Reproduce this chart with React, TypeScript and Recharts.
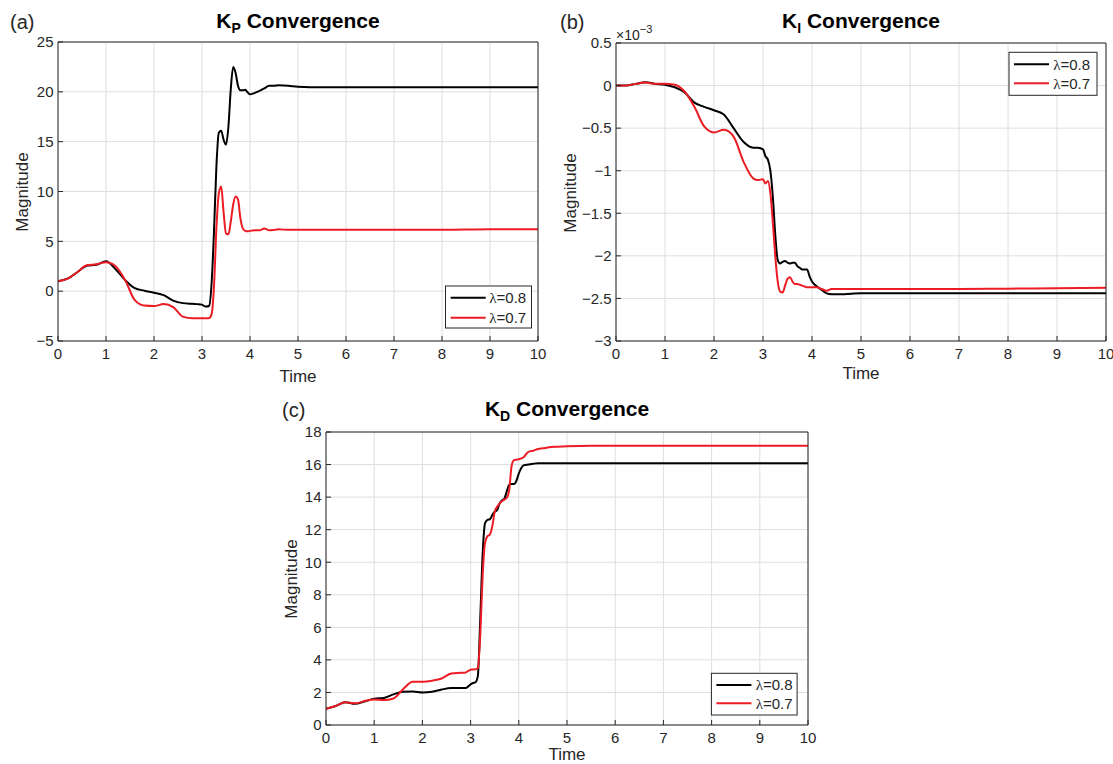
import { LineChart, Line, XAxis, YAxis, CartesianGrid } from "recharts"

// sample times (s), shared by all three panels
const time = [
  0, 0.2, 0.4, 0.6, 0.8, 1.0, 1.2, 1.4, 1.6, 1.8, 2.0, 2.2, 2.4, 2.6, 2.8, 2.9, 3.0,
  3.05, 3.1, 3.15, 3.2, 3.25, 3.3, 3.35, 3.4, 3.45, 3.5, 3.55, 3.6, 3.65, 3.7, 3.75, 3.8,
  3.85, 3.9, 3.95, 4.0, 4.1, 4.2, 4.3, 4.4, 4.5, 4.6, 4.8, 5.0, 5.5, 6, 7, 8, 9, 10,
]

// (a) Kp
const kpLambda08 = [
  1.0, 1.25, 1.9, 2.55, 2.65, 3.0, 2.2, 1.1, 0.3, 0.05, -0.15, -0.4, -0.95, -1.2, -1.27, -1.3, -1.35,
  -1.5, -1.55, -1.45, 0.8, 6.0, 12.5, 15.9, 16.1, 15.2, 14.7, 16.5, 20.3, 22.5, 21.9, 20.6, 20.15,
  20.15, 20.2, 19.95, 19.75, 19.9, 20.1, 20.35, 20.6, 20.6, 20.65, 20.6, 20.5, 20.45, 20.45, 20.45, 20.45, 20.45, 20.45,
]
const kpLambda07 = [
  1.0, 1.25, 1.9, 2.6, 2.7, 2.9, 2.5, 1.1, -0.9, -1.45, -1.5, -1.3, -1.6, -2.55, -2.72, -2.72, -2.72,
  -2.72, -2.72, -2.7, -2.3, 0.5, 6.3, 9.8, 10.5, 7.9, 5.8, 5.7, 7.0, 8.7, 9.5, 9.2, 7.3,
  6.3, 6.05, 6.0, 6.05, 6.1, 6.1, 6.3, 6.1, 6.15, 6.2, 6.15, 6.15, 6.15, 6.15, 6.15, 6.15, 6.2, 6.2,
]

// (b) Ki, in units of 1e-3
const kiLambda08 = [
  0, 0, 0.02, 0.04, 0.02, 0.01, -0.02, -0.08, -0.2, -0.25, -0.29, -0.34, -0.5, -0.66, -0.73, -0.73, -0.75,
  -0.83, -0.87, -1.0, -1.3, -1.75, -2.05, -2.09, -2.07, -2.06, -2.08, -2.09, -2.08, -2.08, -2.12, -2.14, -2.16,
  -2.16, -2.16, -2.24, -2.3, -2.36, -2.4, -2.44, -2.45, -2.45, -2.45, -2.445, -2.44, -2.44, -2.44, -2.44, -2.44, -2.44, -2.44,
]
const kiLambda07 = [
  0, 0, 0.02, 0.035, 0.02, 0.02, 0.01, -0.07, -0.25, -0.48, -0.55, -0.52, -0.6, -0.89, -1.09, -1.11, -1.1,
  -1.15, -1.12, -1.26, -1.6, -2.0, -2.3, -2.42, -2.43, -2.35, -2.27, -2.25, -2.3, -2.33, -2.33, -2.34, -2.35,
  -2.36, -2.37, -2.37, -2.37, -2.37, -2.39, -2.41, -2.39, -2.39, -2.39, -2.39, -2.39, -2.39, -2.39, -2.39, -2.385, -2.38, -2.375,
]

// (c) Kd
const kdLambda08 = [
  1.0, 1.17, 1.4, 1.3, 1.44, 1.62, 1.66, 1.88, 2.04, 2.06, 2.0, 2.04, 2.18, 2.27, 2.27, 2.27, 2.5,
  2.58, 2.62, 3.0, 6.5, 10.5, 12.4, 12.6, 12.64, 12.9, 13.1, 13.2, 13.6, 13.8, 13.9, 14.35, 14.75,
  14.8, 14.8, 15.0, 15.45, 15.95, 16.0, 16.05, 16.08, 16.08, 16.08, 16.08, 16.08, 16.08, 16.08, 16.08, 16.08, 16.08, 16.08,
]
const kdLambda07 = [
  1.0, 1.17, 1.4, 1.33, 1.47, 1.57, 1.53, 1.63, 2.2, 2.65, 2.65, 2.72, 2.86, 3.17, 3.21, 3.23, 3.4,
  3.41, 3.42, 3.5, 5.5, 9.2, 11.2, 11.6, 11.7, 12.2, 13.1, 13.4, 13.6, 13.75, 13.85, 13.95, 14.4,
  15.9, 16.27, 16.3, 16.32, 16.45, 16.78, 16.85, 16.96, 17.0, 17.05, 17.1, 17.13, 17.15, 17.15, 17.15, 17.15, 17.15, 17.15,
]

const xTicks = [0, 1, 2, 3, 4, 5, 6, 7, 8, 9, 10]
const kpTicks = [-5, 0, 5, 10, 15, 20, 25]
const kiTicks = [-3, -2.5, -2, -1.5, -1, -0.5, 0, 0.5]
const kdTicks = [0, 2, 4, 6, 8, 10, 12, 14, 16, 18]
const legendLabels = ["0.8", "0.7"]

const FONT = '"Liberation Sans", Arial, Helvetica, sans-serif'
const AXIS = "#262626"
const GRID = "#dedede"
const BLACK = "#000000"
const RED = "#ec1c24"

const fmt = (v: number) => String(v).replace("-", "\u2212")

const toRows = (a: number[], b: number[]) => time.map((t, i) => ({ t, l08: a[i], l07: b[i] }))

type PanelProps = {
  rows: { t: number; l08: number; l07: number }[]
  yDomain: [number, number]
  yTicks: number[]
  left: number
  top: number
  width: number
  height: number
  marginTop: number
  marginRight: number
  yWidth: number
  xHeight: number
}

function Panel({ rows, yDomain, yTicks, left, top, width, height, marginTop, marginRight, yWidth, xHeight }: PanelProps) {
  const tickStyle = { fill: AXIS, fontSize: 15, fontFamily: FONT }
  return (
    <div style={{ position: "absolute", left, top }}>
      <LineChart width={width} height={height} data={rows} margin={{ top: marginTop, right: marginRight, bottom: 0, left: 0 }}>
        <CartesianGrid stroke={GRID} strokeWidth={1} />
        <XAxis
          dataKey="t"
          type="number"
          domain={[0, 10]}
          ticks={xTicks}
          interval={0}
          allowDataOverflow
          height={xHeight}
          tickSize={-5}
          tickMargin={12}
          stroke={AXIS}
          tick={tickStyle}
          tickFormatter={fmt}
        />
        <XAxis
          xAxisId="top"
          orientation="top"
          dataKey="t"
          type="number"
          domain={[0, 10]}
          ticks={xTicks}
          interval={0}
          allowDataOverflow
          height={1}
          tickSize={-5}
          stroke={AXIS}
          tick={false}
        />
        <YAxis
          type="number"
          domain={yDomain}
          ticks={yTicks}
          interval={0}
          allowDataOverflow
          width={yWidth}
          tickSize={-5}
          tickMargin={9.5}
          stroke={AXIS}
          tick={tickStyle}
          tickFormatter={fmt}
        />
        <YAxis
          yAxisId="right"
          orientation="right"
          type="number"
          domain={yDomain}
          ticks={yTicks}
          interval={0}
          allowDataOverflow
          width={1}
          tickSize={-5}
          stroke={AXIS}
          tick={false}
        />
        <Line dataKey="l08" type="monotone" stroke={BLACK} strokeWidth={2} dot={false} isAnimationActive={false} />
        <Line dataKey="l07" type="monotone" stroke={RED} strokeWidth={2} dot={false} isAnimationActive={false} />
      </LineChart>
    </div>
  )
}

function LegendBox({ x, y, w, h, rowY, lineX, textX }: { x: number; y: number; w: number; h: number; rowY: number[]; lineX: number; textX: number }) {
  const colors = [BLACK, RED]
  return (
    <g>
      <rect x={x} y={y} width={w} height={h} fill="#fff" stroke={AXIS} strokeWidth={1} />
      {legendLabels.map((lab, i) => (
        <g key={lab}>
          <line x1={lineX} x2={lineX + 35} y1={rowY[i]} y2={rowY[i]} stroke={colors[i]} strokeWidth={2} />
          <text x={textX} y={rowY[i] + 5.3} fontSize={15} fontFamily={FONT} fill={AXIS}>
            <tspan fontFamily='"Liberation Serif", "Times New Roman", serif'>λ</tspan>={lab}
          </text>
        </g>
      ))}
    </g>
  )
}

function Title({ x, y, sub }: { x: number; y: number; sub: string }) {
  return (
    <text x={x} y={y} textAnchor="middle" fontSize={21} fontWeight="bold" fontFamily={FONT} fill="#000">
      K<tspan fontSize={14} dy={5}>{sub}</tspan>
      <tspan dy={-5}> Convergence</tspan>
    </text>
  )
}

export default function App() {
  const label = { fontSize: 17, fontFamily: FONT, fill: AXIS }
  return (
    <div style={{ position: "absolute", left: 0, top: 0, width: 1113, height: 764, background: "#fff", fontFamily: FONT }}>
      <Panel rows={toRows(kpLambda08, kpLambda07)} yDomain={[-5, 25]} yTicks={kpTicks}
        left={0} top={0} width={560} height={390} marginTop={41} marginRight={21} yWidth={58} xHeight={49} />
      <Panel rows={toRows(kiLambda08, kiLambda07)} yDomain={[-3, 0.5]} yTicks={kiTicks}
        left={556} top={0} width={557} height={390} marginTop={42} marginRight={6} yWidth={60} xHeight={49} />
      <Panel rows={toRows(kdLambda08, kdLambda07)} yDomain={[0, 18]} yTicks={kdTicks}
        left={270} top={390} width={560} height={374} marginTop={41} marginRight={21} yWidth={56} xHeight={39} />

      <svg width={1113} height={764} style={{ position: "absolute", left: 0, top: 0, pointerEvents: "none" }}>
        <Title x={298} y={28} sub="P" />
        <Title x={861} y={28} sub="I" />
        <Title x={567} y={416} sub="D" />

        <text x={10} y={29} fontSize={20} fontFamily={FONT} fill={AXIS}>(a)</text>
        <text x={560} y={29} fontSize={20} fontFamily={FONT} fill={AXIS}>(b)</text>
        <text x={282} y={417} fontSize={20} fontFamily={FONT} fill={AXIS}>(c)</text>

        <text x={298} y={381.5} textAnchor="middle" {...label}>Time</text>
        <text x={861} y={379} textAnchor="middle" {...label}>Time</text>
        <text x={567} y={760} textAnchor="middle" {...label}>Time</text>

        <text transform="translate(28,192) rotate(-90)" textAnchor="middle" {...label}>Magnitude</text>
        <text transform="translate(576,193) rotate(-90)" textAnchor="middle" {...label}>Magnitude</text>
        <text transform="translate(296.5,579) rotate(-90)" textAnchor="middle" {...label}>Magnitude</text>

        <text x={616} y={39.5} fontSize={14} fontFamily={FONT} fill={AXIS}>
          ×10<tspan fontSize={11} dy={-7}>−3</tspan>
        </text>

        <LegendBox x={445.5} y={286} w={86} h={42} rowY={[297.7, 317.7]} lineX={450.7} textX={489.3} />
        <LegendBox x={1009} y={52.3} w={88} h={43} rowY={[64.3, 83.3]} lineX={1014} textX={1053.2} />
        <LegendBox x={711.4} y={673.3} w={85.7} h={41.7} rowY={[685, 703.3]} lineX={716.4} textX={755.7} />
      </svg>
    </div>
  )
}
